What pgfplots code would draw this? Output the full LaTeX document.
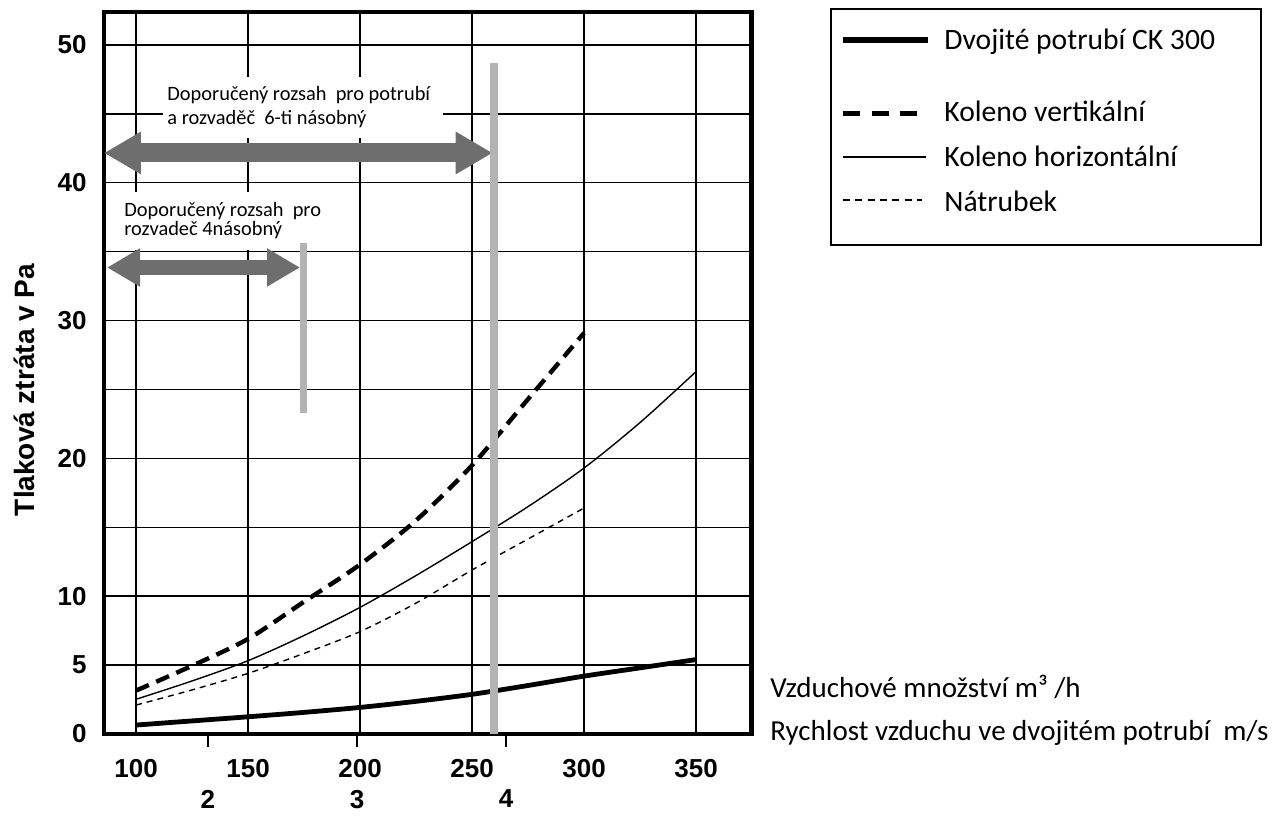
\documentclass[border=0pt]{standalone}
\usepackage{fontspec}
\setmainfont{Carlito}
\newfontfamily\arialfont{Liberation Sans}
\usepackage{pgfplots}
\pgfplotsset{compat=1.18}
\usetikzlibrary{arrows.meta}

\definecolor{arrowgray}{HTML}{6E6E6E}
\definecolor{linegray}{HTML}{B3B3B3}

% curves (air flow m3/h, pressure loss Pa)
\pgfplotstableread{
q    p
100  0.65
125  0.95
150  1.25
175  1.57
200  1.93
225  2.37
250  2.88
275  3.52
300  4.20
325  4.80
350  5.40
}\potrubi
\pgfplotstableread{
q    p
100  3.15
125  4.95
150  6.90
175  9.60
200  12.30
225  15.50
250  19.50
275  24.30
300  29.10
}\vertikalni
\pgfplotstableread{
q    p
100  2.52
125  3.85
150  5.32
175  7.15
200  9.19
225  11.50
250  13.96
275  16.50
300  19.30
325  22.60
350  26.30
}\horizontalni
\pgfplotstableread{
q    p
100  2.10
125  3.20
150  4.40
175  5.85
200  7.43
225  9.50
250  11.90
275  14.15
300  16.40
}\natrubek

\begin{document}
\begin{tikzpicture}
\useasboundingbox (0,0) rectangle (639.5pt,408pt);
\begin{axis}[
    at={(52pt,41pt)}, anchor=south west,
    scale only axis, width=323.7pt, height=361pt,
    xmin=85.7, xmax=374.7, ymin=0, ymax=52.39,
    clip=false,
    xtick={100,150,...,350},
    ytick={0,5,...,50},
    yticklabels={0,5,10,{},20,{},30,{},40,{},50},
    grid=major,
    major grid style={black, line width=0.7pt},
    major tick length=0pt,
    axis line style={line width=2.3pt},
    xtick pos=bottom, ytick pos=left,
    tick label style={font=\arialfont\bfseries\fontsize{13}{15}\selectfont, inner sep=0pt},
    /pgf/number format/assume math mode=true,
    xticklabel style={anchor=north, yshift=-12.3pt},
    yticklabel style={anchor=east, xshift=-8.5pt},
    extra x ticks={132.1,198.7,265.2},
    extra x tick labels={2,3,4},
    extra x tick style={grid=none, major tick length=6.5pt, tick align=outside,
        tick style={line width=0.8pt, black},
        xticklabel style={yshift=-9pt}},
    xlabel={Vzduchové množství m³ /h},
    xlabel style={at={(axis description cs:1.0287,0.0512)}, anchor=base west,
        inner sep=0pt, font=\fontsize{14.5}{17}\selectfont},
    ylabel={Tlaková ztráta v Pa},
    ylabel style={at={(axis description cs:-0.1236,0.4765)}, anchor=center,
        inner sep=0pt, font=\arialfont\bfseries\fontsize{14}{16}\selectfont},
]
% white boxes behind the notes
\fill[white] (axis cs:112.05,43.25) rectangle (axis cs:237.05,47.68);
\fill[white] (axis cs:89.3,35.12) rectangle (axis cs:187.5,39.33);
\begin{scope}[every node/.style={anchor=base west, inner sep=0pt, font=\fontsize{10.2}{12}\selectfont}]
\node at (axis cs:113.84,45.96) {Doporučený rozsah\ \ pro potrubí};
\node at (axis cs:113.84,44.25) {a rozvaděč\ \ 6-ti násobný};
\node at (axis cs:94.64,37.54) {Doporučený rozsah\ \ pro};
\node at (axis cs:94.64,36.14) {rozvadeč 4násobný};
\end{scope}
% range arrows
\draw[arrowgray, line width=9.5pt, {Triangle[width=20pt,length=18.5pt]}-{Triangle[width=20pt,length=18.5pt]}]
    (axis cs:85.7,42.16) -- (axis cs:259.2,42.16);
\draw[arrowgray, line width=7.5pt, {Triangle[width=18pt,length=16.5pt]}-{Triangle[width=18pt,length=16.5pt]}]
    (axis cs:87.05,33.85) -- (axis cs:173.2,33.85);

\addplot[black, line width=2.4pt, smooth] table {\potrubi};
\addplot[black, line width=2.2pt, smooth, dash pattern=on 7pt off 4pt] table {\vertikalni};
\addplot[black, line width=0.7pt, smooth] table {\horizontalni};
\addplot[black, line width=0.7pt, smooth, dash pattern=on 3pt off 2.5pt] table {\natrubek};

% recommended limits
\draw[linegray, line width=4pt] (axis cs:259.9,0) -- (axis cs:259.9,48.7);
\draw[linegray, line width=3.5pt] (axis cs:174.6,23.3) -- (axis cs:174.6,35.6);

\node[anchor=base west, inner sep=0pt, font=\fontsize{14.5}{17}\selectfont]
    at (axis description cs:1.0287,-0.0083) {Rychlost vzduchu ve dvojitém potrubí\ \ m/s};
\end{axis}

% legend
\draw[line width=0.8pt] (415.5pt,285.5pt) rectangle (630.5pt,403.5pt);
\draw[line width=3pt] (421.5pt,388pt) -- (464pt,388pt);
\draw[line width=2.6pt, dash pattern=on 8.5pt off 5.8pt] (421.5pt,351.35pt) -- (459pt,351.35pt);
\draw[line width=1pt] (421.5pt,329.65pt) -- (463pt,329.65pt);
\draw[line width=0.8pt, dash pattern=on 3.5pt off 2.65pt] (421.5pt,308pt) -- (461pt,308pt);
\begin{scope}[every node/.style={anchor=base west, inner sep=0pt, font=\fontsize{14.8}{17}\selectfont}]
\node at (472pt,383pt) {Dvojité potrubí CK 300};
\node at (472pt,347.15pt) {Koleno vertikální};
\node at (472pt,324.65pt) {Koleno horizontální};
\node at (472pt,302.15pt) {Nátrubek};
\end{scope}
\end{tikzpicture}
\end{document}
